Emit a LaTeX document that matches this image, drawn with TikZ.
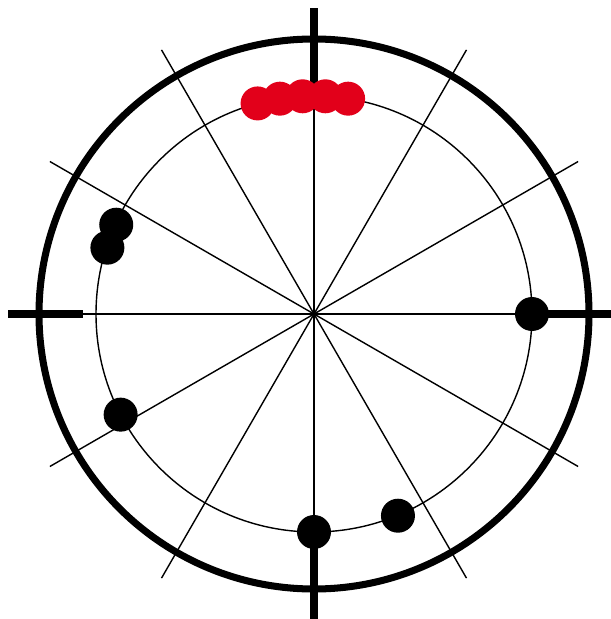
\documentclass[tikz,border=0pt]{standalone}
\usepackage{xcolor}
\usepackage{tikz}

\definecolor{dotred}{RGB}{226,0,26}

\begin{document}
\begin{tikzpicture}[
    spoke/.style={line width=0.8pt},
    rim/.style={line width=4pt},
    dot/.style={circle, fill=black, minimum size=6.8mm, inner sep=0pt},
    reddot/.style={dot, fill=dotred}
]

% frame of the picture
\clip (-6.28,-6.10) rectangle (5.94,6.28);
\coordinate (o) at (0,0);

% thin spokes every 30 degrees
\foreach \a in {0,30,...,330}
  \draw[spoke] (o) -- (\a:6.1);

% inner and outer circle
\draw[spoke] (o) circle (4.36);
\draw[rim] (o) circle (5.5);

% thick ticks on the axes
\foreach \a in {0,90,180,270}
  \draw[rim] (\a:4.62) -- (\a:6.12);

% black dots on the inner circle
\node[dot] (b1) at (155.7:4.34) {};
\node[dot] (b2) at (162.2:4.34) {};
\node[dot] (b3) at (0:4.36) {};
\node[dot] (b4) at (207.5:4.36) {};
\node[dot] (b5) at (270:4.36) {};
\node[dot] (b6) at (292.6:4.37) {};

% red cluster at the top
\foreach \a [count=\i] in {105,99,93,87,81}
  \node[reddot] (r\i) at (\a:4.36) {};

\end{tikzpicture}
\end{document}
